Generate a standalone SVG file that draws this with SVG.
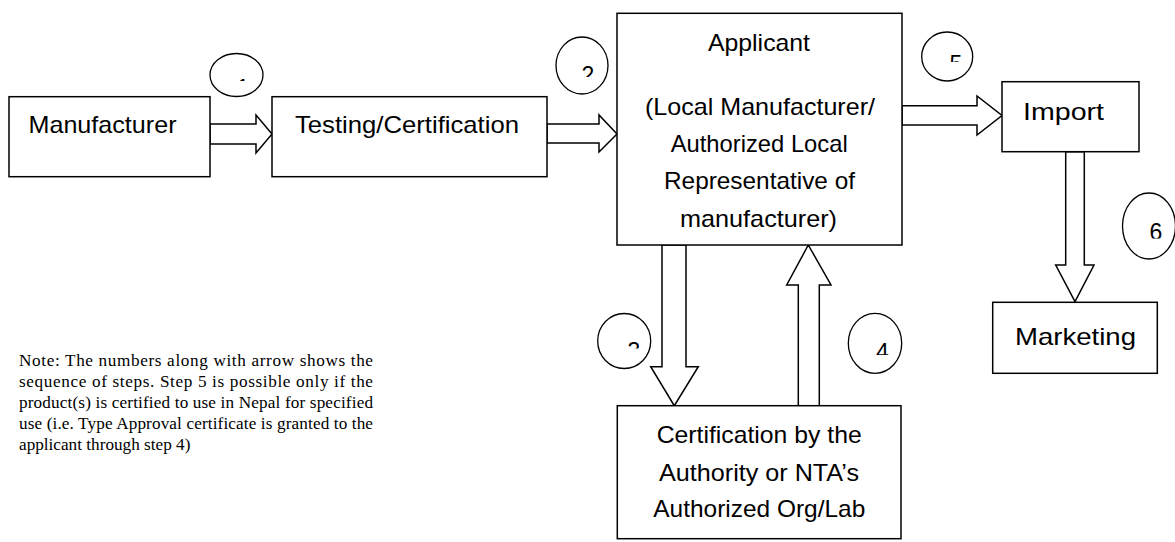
<svg xmlns="http://www.w3.org/2000/svg" width="1175" height="542" viewBox="0 0 1175 542">
<style>
.box{fill:#fff;stroke:#000;stroke-width:1.5}
.arr{fill:#fff;stroke:#000;stroke-width:1.5;stroke-linejoin:miter}
.circ{fill:none;stroke:#000;stroke-width:1.3}
.lbl{font-family:"Liberation Sans",Arial,sans-serif;font-size:24px;fill:#000}
.num{font-family:"Liberation Sans",Arial,sans-serif;font-size:23px;fill:#000;text-anchor:middle}
.note{font-family:"Liberation Serif","Times New Roman",serif;font-size:17.2px;fill:#000}
</style>
<defs>
<clipPath id="c1"><rect x="225" y="60" width="40" height="21"/></clipPath>
<clipPath id="c2"><rect x="570" y="50" width="40" height="27"/></clipPath>
<clipPath id="c3"><rect x="620" y="330" width="30" height="18.5"/></clipPath>
<clipPath id="c4"><rect x="870" y="330" width="30" height="25"/></clipPath>
<clipPath id="c5"><rect x="940" y="40" width="30" height="22"/></clipPath>
<clipPath id="c6"><rect x="1140" y="210" width="30" height="28.5"/></clipPath>
</defs>

<g id="connectors">
<polygon class="arr" points="210,124 256,124 256,115 272,134 256,153 256,144 210,144"/>
<polygon class="arr" points="547,124 599,124 599,115 617,134 599,152 599,143 547,143"/>
<polygon class="arr" points="902,105.7 977,105.7 977,96 1002,115.5 977,135 977,125 902,125"/>
<polygon class="arr" points="1065.7,151.7 1065.7,265 1055.7,265 1075,301.7 1094,265 1084.3,265 1084.3,151.7"/>
<polygon class="arr" points="662,245 662,366.7 650.7,366.7 674.3,405.7 698.3,366.7 686,366.7 686,245"/>
<polygon class="arr" points="798.3,405.7 798.3,285 786.7,285 808.3,245 831,285 819.3,285 819.3,405.7"/>
</g>

<g id="manufacturer">
<rect class="box" x="9" y="96.7" width="201" height="80"/>
<text class="lbl" x="28.5" y="133.3" textLength="148" lengthAdjust="spacingAndGlyphs">Manufacturer</text>
</g>
<g id="testing">
<rect class="box" x="272" y="96.7" width="275" height="80"/>
<text class="lbl" x="295" y="133.3" textLength="224" lengthAdjust="spacingAndGlyphs">Testing/Certification</text>
</g>
<g id="applicant">
<rect class="box" x="617" y="13.3" width="285" height="231.7"/>
<text class="lbl" x="708" y="50.5" textLength="102" lengthAdjust="spacingAndGlyphs">Applicant</text>
<text class="lbl" x="645" y="115" textLength="230" lengthAdjust="spacingAndGlyphs">(Local Manufacturer/</text>
<text class="lbl" x="670.7" y="151.7" textLength="177" lengthAdjust="spacingAndGlyphs">Authorized Local</text>
<text class="lbl" x="664" y="188.5" textLength="191" lengthAdjust="spacingAndGlyphs">Representative of</text>
<text class="lbl" x="680" y="226.5" textLength="157" lengthAdjust="spacingAndGlyphs">manufacturer)</text>
</g>
<g id="import">
<rect class="box" x="1002" y="81.7" width="137" height="70"/>
<text class="lbl" x="1023" y="120" textLength="81" lengthAdjust="spacingAndGlyphs">Import</text>
</g>
<g id="marketing">
<rect class="box" x="992.7" y="302.3" width="164.6" height="71"/>
<text class="lbl" x="1015" y="345" textLength="121" lengthAdjust="spacingAndGlyphs">Marketing</text>
</g>
<g id="certification">
<rect class="box" x="617.3" y="405.7" width="283.7" height="133"/>
<text class="lbl" x="656.7" y="442.7" textLength="205" lengthAdjust="spacingAndGlyphs">Certification by the</text>
<text class="lbl" x="659" y="480.7" textLength="200" lengthAdjust="spacingAndGlyphs">Authority or NTA’s</text>
<text class="lbl" x="653.3" y="516.7" textLength="212" lengthAdjust="spacingAndGlyphs">Authorized Org/Lab</text>
</g>

<g id="step1">
<ellipse class="circ" cx="236.5" cy="75" rx="26.5" ry="21.5"/>
<text class="num" x="243" y="95.5" clip-path="url(#c1)">1</text>
</g>
<g id="step2">
<ellipse class="circ" cx="582" cy="65.5" rx="26" ry="28.5"/>
<text class="num" x="588" y="83" clip-path="url(#c2)">2</text>
</g>
<g id="step3">
<ellipse class="circ" cx="624.2" cy="341" rx="26.5" ry="27.5"/>
<text class="num" x="634" y="358.5" clip-path="url(#c3)">3</text>
</g>
<g id="step4">
<ellipse class="circ" cx="875" cy="343.3" rx="26.7" ry="30"/>
<text class="num" x="882.5" y="359.5" clip-path="url(#c4)">4</text>
</g>
<g id="step5">
<ellipse class="circ" cx="947.2" cy="56.5" rx="25.5" ry="24.5"/>
<text class="num" x="956" y="71.5" clip-path="url(#c5)">5</text>
</g>
<g id="step6">
<ellipse class="circ" cx="1149" cy="226" rx="26.5" ry="33"/>
<text class="num" x="1156" y="240" clip-path="url(#c6)">6</text>
</g>

<g id="note">
<text class="note" x="19" y="366" textLength="354">Note: The numbers along with arrow shows the</text>
<text class="note" x="19" y="387" textLength="354">sequence of steps. Step 5 is possible only if the</text>
<text class="note" x="19" y="408" textLength="354">product(s) is certified to use in Nepal for specified</text>
<text class="note" x="19" y="429" textLength="354">use (i.e. Type Approval certificate is granted to the</text>
<text class="note" x="19" y="450">applicant through step 4)</text>
</g>
</svg>
